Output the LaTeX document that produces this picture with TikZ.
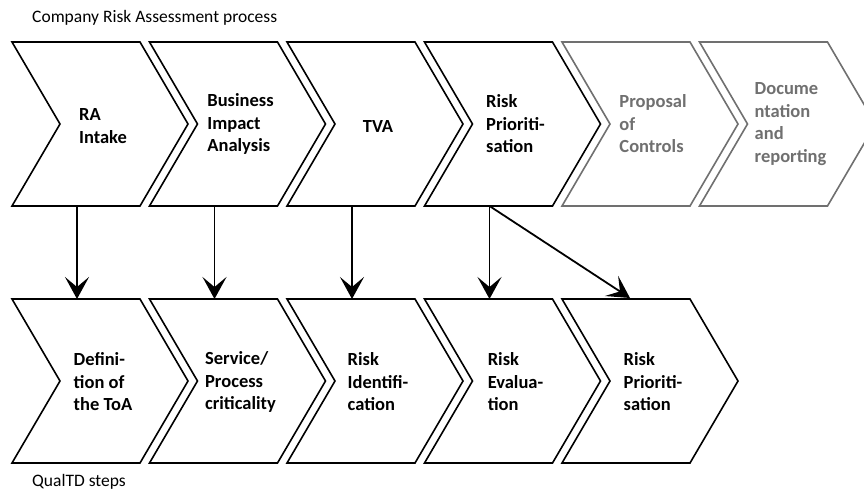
\documentclass[tikz,border=0pt]{standalone}
\usepackage{fontspec}
\setmainfont{Carlito}
\usetikzlibrary{arrows.meta}
\definecolor{dimgray}{RGB}{112,112,112}
\begin{document}
\begin{tikzpicture}[x=1pt,y=-1pt,
  chev/.style={draw=black,line width=1.6pt,line join=miter,fill=white},
  chevdim/.style={chev,draw=dimgray},
  lbl/.style={align=left,font=\fontsize{18.5}{22.5}\selectfont\bfseries,inner sep=0pt},
  lbldim/.style={lbl,text=dimgray},
  caption/.style={anchor=west,font=\fontsize{17.5}{21}\selectfont,inner sep=0pt},
  flow/.style={draw,line width=1.8pt,-{Stealth[length=22pt,width=24pt,inset=10pt]}}]
\useasboundingbox (0,0) rectangle (864,499);
\clip (0,0) rectangle (864,499);
% top row
\foreach \x/\s in {12/chev,149.5/chev,287/chev,424.5/chev,562/chevdim,699.5/chevdim}{
  \path[\s] (\x,42) -- (\x+128,42) -- (\x+176,124) -- (\x+128,206) -- (\x,206) -- (\x+48,124) -- cycle;
}
% bottom row
\foreach \x in {12,149.5,287,424.5,562}{
  \path[chev] (\x,299) -- (\x+128,299) -- (\x+176,381) -- (\x+128,463) -- (\x,463) -- (\x+48,381) -- cycle;
}
\node[caption] (title) at (32,18) {Company Risk Assessment process};
\node[caption] (qual) at (32,482) {QualTD steps};
% top labels
\node[lbl] (t1) at (12+91,126) {RA\\Intake};
\node[lbl] (t2) at (149.5+91,124) {Business\\Impact\\Analysis};
\node[lbl] (t3) at (287+91,126) {TVA};
\node[lbl] (t4) at (424.5+91,124) {Risk\\Prioriti-\\sation};
\node[lbldim] (t5) at (562+91,124) {Proposal\\of\\Controls};
\node[lbldim] (t6) at (699.5+91,124) {Docume\\ntation\\and\\reporting};
% bottom labels
\node[lbl] (b1) at (12+91,382) {Defini-\\tion of\\the ToA};
\node[lbl] (b2) at (149.5+91,382) {Service/\\Process\\criticality};
\node[lbl] (b3) at (287+91,382) {Risk\\Identifi-\\cation};
\node[lbl] (b4) at (424.5+91,382) {Risk\\Evalua-\\tion};
\node[lbl] (b5) at (562+91,382) {Risk\\Prioriti-\\sation};
% connector anchors
\foreach \i/\x in {1/12,2/149.5,3/287,4/424.5}{
  \coordinate (s\i) at (\x+65,206);
  \coordinate (e\i) at (\x+65,299);
}
\coordinate (e5) at (562+68,298);
\foreach \i in {1,2,3,4}{\path[flow] (s\i) -- (e\i);}
\path[flow] (s4) -- (e5);
\end{tikzpicture}
\end{document}
